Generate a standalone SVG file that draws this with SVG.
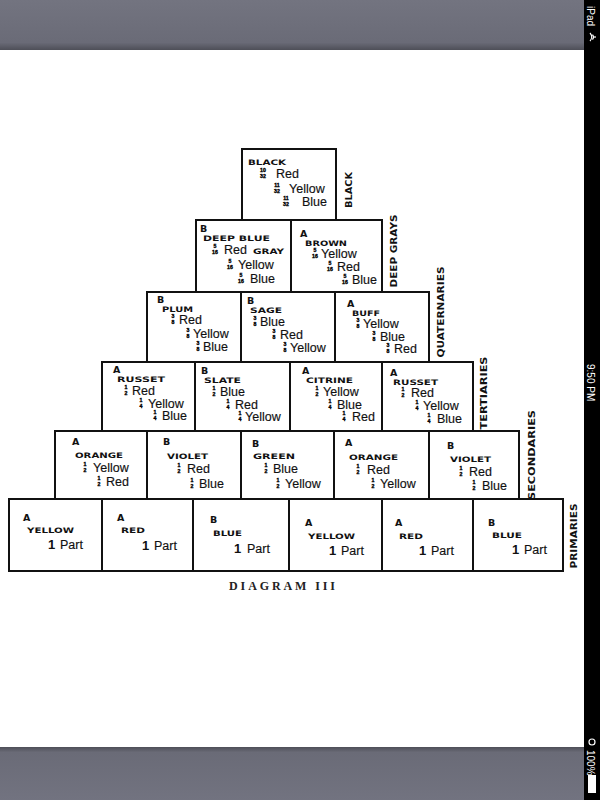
<svg xmlns="http://www.w3.org/2000/svg" width="600" height="800" viewBox="0 0 600 800">
<defs>
<linearGradient id="bandTop" x1="0" y1="0" x2="0" y2="1">
<stop offset="0" stop-color="#737480"/><stop offset="0.85" stop-color="#6a6b77"/><stop offset="1" stop-color="#4e4f58"/>
</linearGradient>
<linearGradient id="bandBot" x1="0" y1="0" x2="0" y2="1">
<stop offset="0" stop-color="#4e4f58"/><stop offset="0.1" stop-color="#6a6b77"/><stop offset="1" stop-color="#727380"/>
</linearGradient>
</defs>
<style>
.box{fill:#fff;stroke:#111;stroke-width:2}
.ab{font-family:"DejaVu Sans",sans-serif;font-weight:bold;font-size:9.5px;fill:#111}
.nm{font-family:"DejaVu Sans",sans-serif;font-weight:bold;font-size:7.5px;fill:#111}
.w{font-family:"Liberation Sans",Arial,sans-serif;font-size:12.5px;fill:#111;stroke:#111;stroke-width:0.15}
.fn{font-family:"Liberation Sans",Arial,sans-serif;font-weight:bold;font-size:5.2px;fill:#000;stroke:#000;stroke-width:0.35;text-anchor:middle}
.one{font-family:"Liberation Sans",Arial,sans-serif;font-weight:bold;font-size:13px;fill:#111}
.side{font-family:"DejaVu Sans",sans-serif;font-weight:bold;font-size:8.5px;fill:#111;text-anchor:middle}
.cap{font-family:"Liberation Serif","Times New Roman",serif;font-weight:bold;font-size:12px;fill:#222}
.st{font-family:"Liberation Sans",Arial,sans-serif;font-size:10px;fill:#fff}
</style>
<rect x="0" y="0" width="600" height="800" fill="#fff"/>
<rect x="0" y="0" width="584" height="50" fill="url(#bandTop)"/>
<rect x="0" y="747" width="584" height="53" fill="url(#bandBot)"/>
<rect x="584" y="0" width="16" height="800" fill="#000"/>
<g id="statusbar">
<text class="st" transform="translate(587,6) rotate(90)">iPad</text>
<path d="M590,33 a6,6 0 0 1 0,8 M592.5,34.5 a4,4 0 0 1 0,5 M595,36 l0,2" stroke="#fff" stroke-width="1.2" fill="none"/>
<text class="st" transform="translate(587,364) rotate(90)">9:50 PM</text>
<circle cx="592" cy="742" r="3" fill="none" stroke="#fff" stroke-width="1.2"/>
<text class="st" transform="translate(587,750) rotate(90)">100%</text>
<rect x="588" y="775" width="8" height="18" fill="#fff"/>
</g>

<g id="black">
<rect class="box" x="242" y="149" width="94" height="71"/>
<text class="nm" x="248" y="165" textLength="38" lengthAdjust="spacingAndGlyphs">BLACK</text>
<text class="fn" x="263" y="172.2">10</text><text class="fn" x="263" y="178">32</text><text class="w" x="276" y="178">Red</text>
<text class="fn" x="277" y="187.2">11</text><text class="fn" x="277" y="193">32</text><text class="w" x="289" y="193">Yellow</text>
<text class="fn" x="286" y="199.7">11</text><text class="fn" x="286" y="205.5">32</text><text class="w" x="302" y="205.5">Blue</text>
</g>

<g id="deep-blue-gray">
<rect class="box" x="196" y="220" width="95" height="72"/>
<text class="ab" x="200" y="232">B</text>
<text class="nm" x="203" y="241" textLength="67" lengthAdjust="spacingAndGlyphs">DEEP BLUE</text>
<text class="nm" x="253" y="253.5" textLength="31" lengthAdjust="spacingAndGlyphs">GRAY</text>
<text class="fn" x="215" y="247.7">5</text><text class="fn" x="215" y="253.5">16</text><text class="w" x="224" y="253.5">Red</text>
<text class="fn" x="230" y="263.2">5</text><text class="fn" x="230" y="269">16</text><text class="w" x="238" y="269">Yellow</text>
<text class="fn" x="241" y="276.7">5</text><text class="fn" x="241" y="282.5">16</text><text class="w" x="250" y="282.5">Blue</text>
</g>

<g id="brown">
<rect class="box" x="291" y="220" width="91" height="72"/>
<text class="ab" x="300" y="236.5">A</text>
<text class="nm" x="305" y="245.5" textLength="42" lengthAdjust="spacingAndGlyphs">BROWN</text>
<text class="fn" x="315" y="252.2">5</text><text class="fn" x="315" y="258">16</text><text class="w" x="321" y="258">Yellow</text>
<text class="fn" x="330" y="265.2">5</text><text class="fn" x="330" y="271">16</text><text class="w" x="337" y="271">Red</text>
<text class="fn" x="345" y="277.7">5</text><text class="fn" x="345" y="283.5">16</text><text class="w" x="352" y="283.5">Blue</text>
</g>

<g id="plum">
<rect class="box" x="147" y="292" width="94" height="70"/>
<text class="ab" x="157" y="302.5">B</text>
<text class="nm" x="162" y="311.5" textLength="31" lengthAdjust="spacingAndGlyphs">PLUM</text>
<text class="fn" x="173" y="318.2">3</text><text class="fn" x="173" y="324">8</text><text class="w" x="179" y="324">Red</text>
<text class="fn" x="188" y="332.2">3</text><text class="fn" x="188" y="338">8</text><text class="w" x="193" y="338">Yellow</text>
<text class="fn" x="198" y="345.2">3</text><text class="fn" x="198" y="351">8</text><text class="w" x="203" y="351">Blue</text>
</g>

<g id="sage">
<rect class="box" x="241" y="292" width="94" height="70"/>
<text class="ab" x="247" y="304">B</text>
<text class="nm" x="250" y="313" textLength="32" lengthAdjust="spacingAndGlyphs">SAGE</text>
<text class="fn" x="255" y="320.2">3</text><text class="fn" x="255" y="326">8</text><text class="w" x="260" y="326">Blue</text>
<text class="fn" x="274" y="333.2">3</text><text class="fn" x="274" y="339">8</text><text class="w" x="280" y="339">Red</text>
<text class="fn" x="285" y="345.7">3</text><text class="fn" x="285" y="351.5">8</text><text class="w" x="290" y="351.5">Yellow</text>
</g>

<g id="buff">
<rect class="box" x="335" y="292" width="94" height="70"/>
<text class="ab" x="347" y="306.5">A</text>
<text class="nm" x="352" y="315.5" textLength="28" lengthAdjust="spacingAndGlyphs">BUFF</text>
<text class="fn" x="358" y="322.2">3</text><text class="fn" x="358" y="328">8</text><text class="w" x="363" y="328">Yellow</text>
<text class="fn" x="374" y="334.7">3</text><text class="fn" x="374" y="340.5">8</text><text class="w" x="380" y="340.5">Blue</text>
<text class="fn" x="388" y="347.2">3</text><text class="fn" x="388" y="353">8</text><text class="w" x="394" y="353">Red</text>
</g>

<g id="russet-1">
<rect class="box" x="102" y="362" width="93" height="69"/>
<text class="ab" x="113" y="373">A</text>
<text class="nm" x="117" y="382" textLength="48" lengthAdjust="spacingAndGlyphs">RUSSET</text>
<text class="fn" x="126" y="388.7">1</text><text class="fn" x="126" y="394.5">2</text><text class="w" x="132" y="394.5">Red</text>
<text class="fn" x="141" y="401.7">1</text><text class="fn" x="141" y="407.5">4</text><text class="w" x="148" y="407.5">Yellow</text>
<text class="fn" x="155" y="414.2">1</text><text class="fn" x="155" y="420">4</text><text class="w" x="162" y="420">Blue</text>
</g>

<g id="slate">
<rect class="box" x="195" y="362" width="95" height="69"/>
<text class="ab" x="201" y="374">B</text>
<text class="nm" x="204" y="383" textLength="37" lengthAdjust="spacingAndGlyphs">SLATE</text>
<text class="fn" x="214" y="389.7">1</text><text class="fn" x="214" y="395.5">2</text><text class="w" x="220" y="395.5">Blue</text>
<text class="fn" x="228" y="402.7">1</text><text class="fn" x="228" y="408.5">4</text><text class="w" x="235" y="408.5">Red</text>
<text class="fn" x="240" y="415.2">1</text><text class="fn" x="240" y="421">4</text><text class="w" x="245" y="421">Yellow</text>
</g>

<g id="citrine">
<rect class="box" x="290" y="362" width="92" height="69"/>
<text class="ab" x="302" y="374">A</text>
<text class="nm" x="306" y="383" textLength="47" lengthAdjust="spacingAndGlyphs">CITRINE</text>
<text class="fn" x="317" y="389.7">1</text><text class="fn" x="317" y="395.5">2</text><text class="w" x="323" y="395.5">Yellow</text>
<text class="fn" x="330" y="402.7">1</text><text class="fn" x="330" y="408.5">4</text><text class="w" x="337" y="408.5">Blue</text>
<text class="fn" x="344" y="415.2">1</text><text class="fn" x="344" y="421">4</text><text class="w" x="352" y="421">Red</text>
</g>

<g id="russet-2">
<rect class="box" x="382" y="362" width="91" height="69"/>
<text class="ab" x="390" y="375.5">A</text>
<text class="nm" x="393" y="384.5" textLength="45" lengthAdjust="spacingAndGlyphs">RUSSET</text>
<text class="fn" x="403" y="391.2">1</text><text class="fn" x="403" y="397">2</text><text class="w" x="411" y="397">Red</text>
<text class="fn" x="417" y="404.2">1</text><text class="fn" x="417" y="410">4</text><text class="w" x="423" y="410">Yellow</text>
<text class="fn" x="429" y="416.7">1</text><text class="fn" x="429" y="422.5">4</text><text class="w" x="437" y="422.5">Blue</text>
</g>

<g id="orange-1">
<rect class="box" x="55" y="431" width="92" height="68"/>
<text class="ab" x="72" y="445">A</text>
<text class="nm" x="75" y="458" textLength="48" lengthAdjust="spacingAndGlyphs">ORANGE</text>
<text class="fn" x="85" y="466.2">1</text><text class="fn" x="85" y="472">2</text><text class="w" x="93" y="472">Yellow</text>
<text class="fn" x="99" y="479.7">1</text><text class="fn" x="99" y="485.5">2</text><text class="w" x="106" y="485.5">Red</text>
</g>

<g id="violet-1">
<rect class="box" x="147" y="431" width="94" height="68"/>
<text class="ab" x="163" y="445">B</text>
<text class="nm" x="167" y="459" textLength="41" lengthAdjust="spacingAndGlyphs">VIOLET</text>
<text class="fn" x="179" y="467.2">1</text><text class="fn" x="179" y="473">2</text><text class="w" x="187" y="473">Red</text>
<text class="fn" x="192" y="482.2">1</text><text class="fn" x="192" y="488">2</text><text class="w" x="199" y="488">Blue</text>
</g>

<g id="green">
<rect class="box" x="241" y="431" width="93" height="68"/>
<text class="ab" x="252" y="447">B</text>
<text class="nm" x="253" y="459" textLength="42" lengthAdjust="spacingAndGlyphs">GREEN</text>
<text class="fn" x="266" y="467.2">1</text><text class="fn" x="266" y="473">2</text><text class="w" x="273" y="473">Blue</text>
<text class="fn" x="278" y="482.2">1</text><text class="fn" x="278" y="488">2</text><text class="w" x="285" y="488">Yellow</text>
</g>

<g id="orange-2">
<rect class="box" x="334" y="431" width="95" height="68"/>
<text class="ab" x="345" y="446">A</text>
<text class="nm" x="349" y="460" textLength="49" lengthAdjust="spacingAndGlyphs">ORANGE</text>
<text class="fn" x="358" y="468.2">1</text><text class="fn" x="358" y="474">2</text><text class="w" x="367" y="474">Red</text>
<text class="fn" x="373" y="482.2">1</text><text class="fn" x="373" y="488">2</text><text class="w" x="380" y="488">Yellow</text>
</g>

<g id="violet-2">
<rect class="box" x="429" y="431" width="90" height="68"/>
<text class="ab" x="447" y="449">B</text>
<text class="nm" x="450" y="462" textLength="41" lengthAdjust="spacingAndGlyphs">VIOLET</text>
<text class="fn" x="461" y="470.2">1</text><text class="fn" x="461" y="476">2</text><text class="w" x="469" y="476">Red</text>
<text class="fn" x="474" y="484.2">1</text><text class="fn" x="474" y="490">2</text><text class="w" x="482" y="490">Blue</text>
</g>

<g id="yellow-1">
<rect class="box" x="9" y="499" width="93" height="72"/>
<text class="ab" x="23" y="521">A</text>
<text class="nm" x="27" y="533" textLength="47" lengthAdjust="spacingAndGlyphs">YELLOW</text>
<text class="one" x="48" y="549">1</text><text class="w" x="60" y="549">Part</text>
</g>

<g id="red-1">
<rect class="box" x="102" y="499" width="91" height="72"/>
<text class="ab" x="117" y="521">A</text>
<text class="nm" x="121" y="533" textLength="24" lengthAdjust="spacingAndGlyphs">RED</text>
<text class="one" x="142" y="550">1</text><text class="w" x="154" y="550">Part</text>
</g>

<g id="blue-1">
<rect class="box" x="193" y="499" width="96" height="72"/>
<text class="ab" x="210" y="523">B</text>
<text class="nm" x="213" y="536" textLength="29" lengthAdjust="spacingAndGlyphs">BLUE</text>
<text class="one" x="234" y="553">1</text><text class="w" x="247" y="553">Part</text>
</g>

<g id="yellow-2">
<rect class="box" x="289" y="499" width="93" height="72"/>
<text class="ab" x="305" y="526">A</text>
<text class="nm" x="308" y="539" textLength="47" lengthAdjust="spacingAndGlyphs">YELLOW</text>
<text class="one" x="329" y="555">1</text><text class="w" x="341" y="555">Part</text>
</g>

<g id="red-2">
<rect class="box" x="382" y="499" width="91" height="72"/>
<text class="ab" x="395" y="526">A</text>
<text class="nm" x="399" y="539" textLength="24" lengthAdjust="spacingAndGlyphs">RED</text>
<text class="one" x="419" y="555">1</text><text class="w" x="431" y="555">Part</text>
</g>

<g id="blue-2">
<rect class="box" x="473" y="499" width="90" height="72"/>
<text class="ab" x="488" y="526">B</text>
<text class="nm" x="492" y="538" textLength="30" lengthAdjust="spacingAndGlyphs">BLUE</text>
<text class="one" x="512" y="554">1</text><text class="w" x="524" y="554">Part</text>
</g>

<g id="row-labels">
<text class="side" transform="translate(352,190) rotate(-90)" textLength="36" lengthAdjust="spacingAndGlyphs">BLACK</text>
<text class="side" transform="translate(397,251) rotate(-90)" textLength="73" lengthAdjust="spacingAndGlyphs">DEEP GRAYS</text>
<text class="side" transform="translate(444,312) rotate(-90)" textLength="91" lengthAdjust="spacingAndGlyphs">QUATERNARIES</text>
<text class="side" transform="translate(487,393) rotate(-90)" textLength="73" lengthAdjust="spacingAndGlyphs">TERTIARIES</text>
<text class="side" transform="translate(535,455) rotate(-90)" textLength="90" lengthAdjust="spacingAndGlyphs">SECONDARIES</text>
<text class="side" transform="translate(577,536) rotate(-90)" textLength="65" lengthAdjust="spacingAndGlyphs">PRIMARIES</text>
</g>

<text class="cap" x="229" y="589.5" textLength="106" lengthAdjust="spacing">DIAGRAM III</text>
</svg>
